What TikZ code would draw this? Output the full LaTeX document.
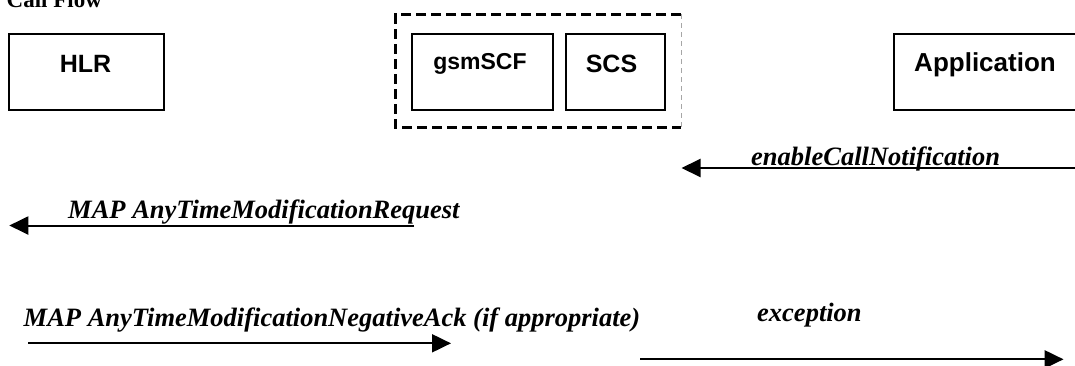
\documentclass[tikz,border=0pt]{standalone}
\usepackage{fontspec}
\setmainfont{Liberation Serif}
\newfontfamily\boxfont{Liberation Sans}
\usetikzlibrary{arrows.meta}

\begin{document}
\begin{tikzpicture}[x=1pt,y=-1pt,
  entity/.style={draw, line width=2pt, minimum height=76pt, anchor=north west, inner sep=0pt},
  entitytext/.style={font=\boxfont\bfseries\fontsize{25}{30}\selectfont, anchor=base, inner sep=0pt},
  msg/.style={line width=2pt, -{Triangle[length=19pt,width=18pt]}},
  msgtext/.style={font=\bfseries\itshape\fontsize{26.5}{32}\selectfont, anchor=base west, inner sep=0pt},
  grouprule/.style={line width=3pt, dash pattern=on 10pt off 5pt},
  groupedge/.style={line width=0.8pt, draw=black!35, dash pattern=on 5pt off 4pt},
]
\useasboundingbox (0,0) rectangle (1075,365);

% heading
\node[font=\bfseries\fontsize{23}{28}\selectfont, anchor=base west, inner sep=0pt] (title) at (6.5,7) {Call Flow};

% entities
\node[entity, minimum width=155pt] (hlr) at (8,33.3) {};
\node[entitytext] (hlrlabel) at (85.5,72.5) {HLR};

\node[entity, minimum width=140.7pt] (scf) at (411,33.3) {};
\node[entitytext, font=\boxfont\bfseries\fontsize{23}{28}\selectfont] (scflabel) at (480,69.5) {gsmSCF};

\node[entity, minimum width=98.7pt] (scs) at (565,33.3) {};
\node[entitytext] (scslabel) at (611.5,72) {SCS};

\node[entity, minimum width=184pt] (app) at (893.3,33.3) {};
\node[entitytext, font=\boxfont\bfseries\fontsize{26}{30}\selectfont] (applabel) at (985,71.7) {Application};

% dashed grouping of gsmSCF and SCS
\coordinate (grpNW) at (395.7,14.3);
\coordinate (grpSE) at (681,127.7);
\draw[grouprule] (grpSE |- grpNW) -- (grpNW) -- (grpNW |- grpSE) -- (grpSE);
\draw[groupedge] (grpSE |- grpNW) -- (grpSE);

% enableCallNotification
\coordinate (encFrom) at (1076,168);
\coordinate (encTo) at (681.5,168);
\draw[msg] (encFrom) -- (encTo);
\node[msgtext] (enclabel) at (751,165) {enableCallNotification};

% MAP AnyTimeModificationRequest
\coordinate (reqFrom) at (414,225.5);
\coordinate (reqTo) at (9.3,225.5);
\draw[msg] (reqFrom) -- (reqTo);
\node[msgtext] (reqlabel) at (68,218.3) {MAP AnyTimeModificationRequest};

% MAP AnyTimeModificationNegativeAck
\coordinate (nakFrom) at (28,343.3);
\coordinate (nakTo) at (451,343.3);
\draw[msg] (nakFrom) -- (nakTo);
\node[msgtext] (naklabel) at (23.5,326) {MAP AnyTimeModificationNegativeAck (if appropriate)};

% exception
\coordinate (excFrom) at (640,359.3);
\coordinate (excTo) at (1063.5,359.3);
\draw[msg] (excFrom) -- (excTo);
\node[msgtext] (exclabel) at (757,321) {exception};
\end{tikzpicture}
\end{document}
